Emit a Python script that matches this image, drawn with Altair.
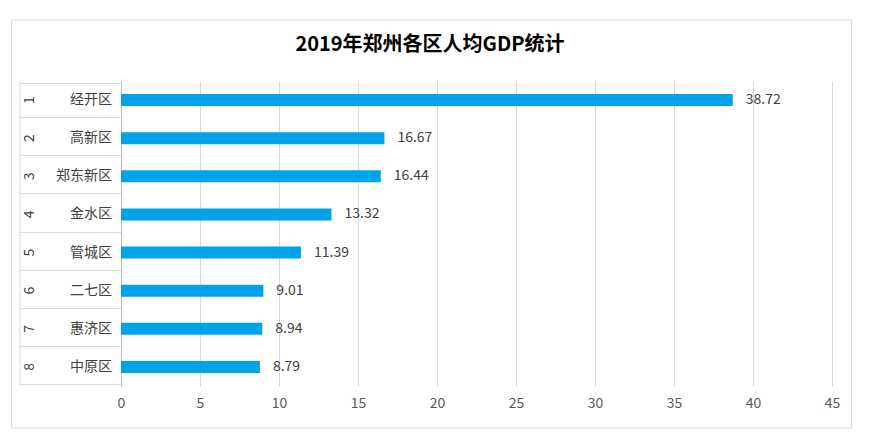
import altair as alt
import pandas as pd

ranks = ["1", "2", "3", "4", "5", "6", "7", "8"]
names = ["经开区", "高新区", "郑东新区", "金水区", "管城区", "二七区", "惠济区", "中原区"]
values = [38.72, 16.67, 16.44, 13.32, 11.39, 9.01, 8.94, 8.79]
x_ticks = [0, 5, 10, 15, 20, 25, 30, 35, 40, 45]
title_text = "2019年郑州各区人均GDP统计"

df = pd.DataFrame({"rank": ranks, "name": names, "value": values})

FONT = "Noto Sans CJK SC"
W, H = 711, 305
GRID = "#d9d9d9"

y_enc = alt.Y(
    "name:N",
    sort=names,
    title=None,
    axis=alt.Axis(
        labels=False,
        ticks=True,
        tickBand="extent",
        tickSize=101,
        tickColor=GRID,
        domain=True,
        domainColor="#bfbfbf",
        grid=False,
    ),
)
x_enc = alt.X(
    "value:Q",
    title=None,
    scale=alt.Scale(domain=[0, 45], nice=False),
    axis=alt.Axis(
        values=x_ticks,
        grid=True,
        gridColor=GRID,
        domain=False,
        ticks=False,
        labelFlush=False,
        labelFontSize=14,
        labelColor="#595959",
        labelPadding=10,
        labelFont=FONT,
    ),
)

base = alt.Chart(df)

bars = base.mark_bar(size=12, color="#00a2e8").encode(x=x_enc, y=y_enc)

value_labels = base.mark_text(
    align="left", baseline="middle", dx=13, fontSize=14, color="#404040", font=FONT
).encode(x="value:Q", y=alt.Y("name:N", sort=names), text=alt.Text("value:Q", format=".2f"))

name_labels = base.mark_text(
    align="right", baseline="middle", fontSize=14, color="#404040", font=FONT
).encode(x=alt.value(-9), y=alt.Y("name:N", sort=names), text="name:N")

rank_labels = base.mark_text(
    align="center", baseline="middle", fontSize=14, color="#404040", font=FONT, angle=270
).encode(x=alt.value(-91), y=alt.Y("name:N", sort=names), text="rank:N")

one = pd.DataFrame({"t": [title_text]})
left_rule = alt.Chart(one).mark_rule(color=GRID).encode(
    x=alt.value(-101), y=alt.value(0), y2=alt.value(H)
)
frame = alt.Chart(one).mark_rect(fillOpacity=0, stroke=GRID, strokeWidth=1).encode(
    x=alt.value(-109.5), x2=alt.value(730.5), y=alt.value(-61), y2=alt.value(347)
)
title = alt.Chart(one).mark_text(
    align="center", baseline="middle", fontSize=20, fontWeight="bold", font=FONT, color="#000000"
).encode(x=alt.value(309), y=alt.value(-36), text="t:N")

chart = (
    alt.layer(frame, left_rule, bars, value_labels, name_labels, rank_labels, title)
    .properties(
        width=W,
        height=H,
        padding={"left": 113, "top": 73, "right": 36, "bottom": 52},
        autosize=alt.AutoSizeParams(type="none"),
    )
    .configure_view(stroke=None)
)

chart.save("out.html", embed_options={"renderer": "svg", "actions": False})
